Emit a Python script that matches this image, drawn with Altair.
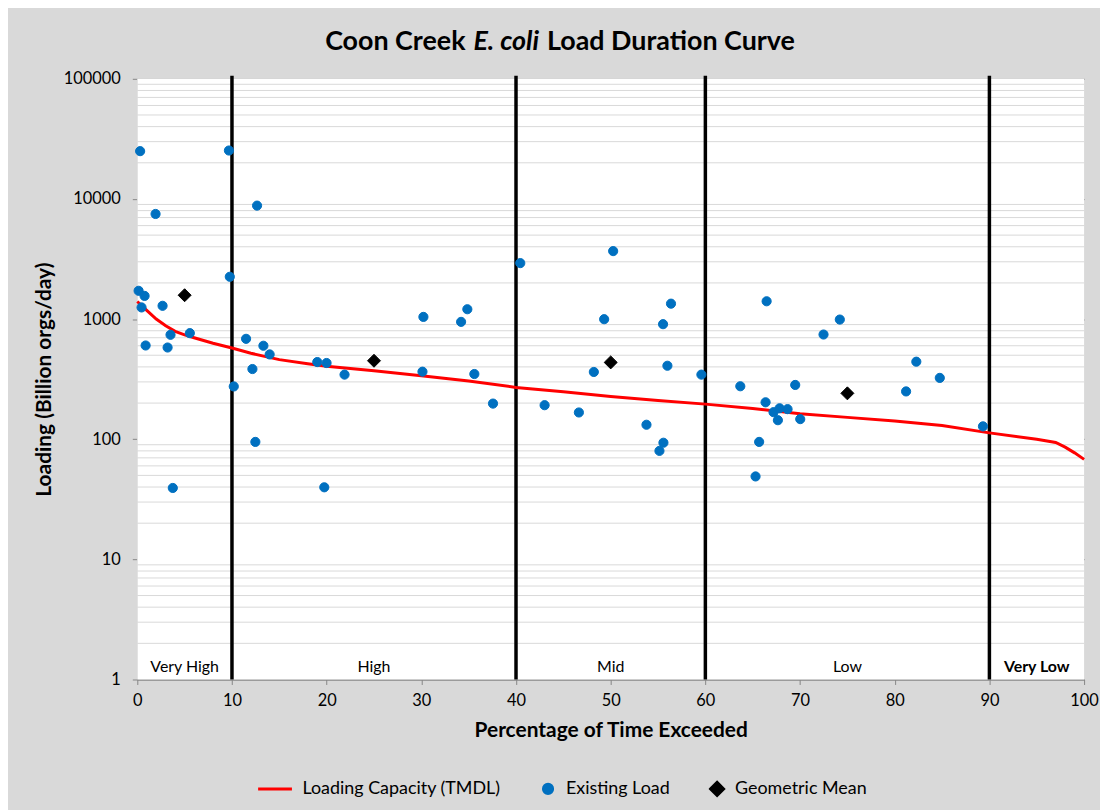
import altair as alt
import pandas as pd

# ---- data ----
existing_x = [0.30, 0.14, 0.77, 0.45, 0.88, 1.93, 2.67, 3.20, 3.51, 3.75, 5.55, 9.68, 9.77,
              10.19, 11.49, 12.16, 12.47, 12.65, 13.32, 13.98, 19.01, 19.75, 19.99, 21.89,
              30.12, 30.22, 34.2, 34.86, 35.6, 37.57, 40.45, 43.02, 46.64, 48.22, 49.31,
              50.26, 53.78, 55.15, 55.57, 55.53, 55.99, 56.37, 59.58, 63.69, 65.3, 65.68,
              66.36, 66.47, 67.2, 67.84, 67.66, 68.68, 69.49, 70.02, 72.48, 74.2, 81.2,
              82.28, 84.76, 89.32]
existing_y = [25000, 1720, 1560, 1250, 603, 7500, 1290, 580, 740, 39.3, 764, 25300, 2250,
              275, 685, 384, 95, 8800, 600, 508, 439, 39.8, 431, 345,
              365, 1043, 948, 1208, 349, 198, 2924, 192, 167, 363, 998,
              3680, 132, 80, 93.5, 907, 409, 1344, 345, 276, 49, 95,
              203, 1407, 168, 181, 144, 178, 283, 147, 744, 991, 250,
              442, 324, 128]

gm_x = [5, 25, 50, 75]
gm_y = [1580, 450, 436, 241]

tmdl_x = [0, 1, 2, 3, 4, 5, 6, 8, 10, 12, 15, 18, 20, 25, 30, 35, 40, 45, 50, 55, 60,
          65, 70, 75, 80, 85, 90, 95, 97, 98, 99, 100]
tmdl_y = [1400, 1180, 1000, 880, 790, 740, 700, 630, 575, 520, 460, 425, 405, 372, 338,
          305, 270, 248, 227, 210, 196, 180, 163, 152, 142, 130, 113, 100, 94, 86, 77, 68]

band_bounds = [10, 40, 60, 90]
band_labels = ["Very High", "High", "Mid", "Low"]
band_centers = [5, 25, 50, 75]
band_bold_labels = ["Very Low"]
band_bold_centers = [95]
band_label_y = 1.28

x_domain = [0, 100]
y_domain = [1, 100000]
y_ticks = [1, 10, 100, 1000, 10000, 100000]
minor_mult = [2, 3, 4, 5, 6, 7, 8, 9]
x_ticks = [0, 10, 20, 30, 40, 50, 60, 70, 80, 90, 100]

series_names = ["Loading Capacity (TMDL)", "Existing Load", "Geometric Mean"]
series_colors = ["#ff0000", "#0070c0", "#000000"]
series_shapes = ["stroke", "circle", "diamond"]
series_sizes = [1156, 85, 170]

FONT = "Lato"

# ---- tables ----
line_df = pd.DataFrame({"x": tmdl_x, "y": tmdl_y, "series": series_names[0]})
pts_df = pd.concat([
    pd.DataFrame({"x": existing_x, "y": existing_y, "series": series_names[1]}),
    pd.DataFrame({"x": gm_x, "y": gm_y, "series": series_names[2]}),
], ignore_index=True)
minor_df = pd.DataFrame({"y": [m * d for d in y_ticks[:-1] for m in minor_mult]})
bound_df = pd.DataFrame({"x": band_bounds})
lab_df = pd.DataFrame({"x": band_centers, "y": band_label_y, "t": band_labels})
labb_df = pd.DataFrame({"x": band_bold_centers, "y": band_label_y, "t": band_bold_labels})
bg_df = pd.DataFrame({"x": [x_domain[0]], "x2": [x_domain[1]],
                      "y": [y_domain[0]], "y2": [y_domain[1]]})

X = alt.X("x:Q", scale=alt.Scale(domain=x_domain, nice=False, zero=False),
          axis=alt.Axis(values=x_ticks, title="Percentage of Time Exceeded", grid=False,
                        tickSize=5, labelPadding=8, titlePadding=11, labelFontSize=16.5,
                        titleFontSize=21, labelFlush=False))
Y = alt.Y("y:Q", scale=alt.Scale(type="log", domain=y_domain, nice=False),
          axis=alt.Axis(values=y_ticks, format="d", grid=True, gridColor="#868686",
                        title="Loading (Billion orgs/day)", tickSize=5, labelPadding=12,
                        titlePadding=9, labelFontSize=16.5, titleFontSize=21))

leg = alt.Legend(title=None, orient="none", direction="horizontal", legendX=120, legendY=703,
                 labelFont=FONT, labelFontSize=18, labelColor="black", columnPadding=38,
                 labelOffset=9, symbolStrokeWidth=3, labelLimit=0, clipHeight=22)

def enc(ch, rng, **kw):
    return ch("series:N", scale=alt.Scale(domain=series_names, range=rng, **kw), legend=leg)

bg = alt.Chart(bg_df).mark_rect(color="white").encode(x=X, x2="x2", y=Y, y2="y2")
minor = alt.Chart(minor_df).mark_rule(color="#d9d9d9", strokeWidth=1).encode(y=Y)
bounds = alt.Chart(bound_df).mark_rule(color="black", strokeWidth=3.5).encode(
    x=X, y=alt.value(-3), y2=alt.value("height"))
line = alt.Chart(line_df).mark_line(strokeWidth=3).encode(
    x=X, y=Y, color=enc(alt.Color, series_colors))
pts = alt.Chart(pts_df).mark_point(filled=True, opacity=1, strokeWidth=1).encode(
    x=X, y=Y,
    color=enc(alt.Color, series_colors),
    stroke=enc(alt.Stroke, series_colors),
    shape=enc(alt.Shape, series_shapes),
    size=enc(alt.Size, series_sizes, type="ordinal"),
)
labs = alt.Chart(lab_df).mark_text(font=FONT, fontSize=16, color="black", baseline="middle").encode(
    x=X, y=Y, text="t:N")
labsb = alt.Chart(labb_df).mark_text(font=FONT, fontSize=16, fontWeight="bold", color="black",
                                     baseline="middle").encode(x=X, y=Y, text="t:N")

TS = 27
t1 = alt.Chart(pd.DataFrame({"t": ["Coon Creek"]})).mark_text(
    font=FONT, fontSize=TS, fontWeight="bold", align="right", baseline="alphabetic",
    x=330, y=-29, color="black").encode(text="t:N")
t2 = alt.Chart(pd.DataFrame({"t": ["E. coli"]})).mark_text(
    font=FONT, fontSize=TS, fontWeight="bold", fontStyle="italic", align="center",
    baseline="alphabetic", x=371, y=-29, color="black").encode(text="t:N")
t3 = alt.Chart(pd.DataFrame({"t": ["Load Duration Curve"]})).mark_text(
    font=FONT, fontSize=TS, fontWeight="bold", align="left", baseline="alphabetic",
    x=412, y=-29, color="black").encode(text="t:N")

chart = alt.layer(bg, minor, bounds, line, pts, labs, labsb, t1, t2, t3).properties(
    width=952, height=604,
    autosize=alt.AutoSizeParams(type="none"),
    padding={"left": 130, "top": 69, "right": 16, "bottom": 129},
    background="#d9d9d9",
).configure_view(fill="white", strokeWidth=0).configure_axis(
    labelFont=FONT, titleFont=FONT, labelColor="black", titleColor="black",
    domainColor="#868686", tickColor="#868686", titleFontWeight="bold",
)

chart.save("out.html", embed_options={"renderer": "svg", "actions": False})
